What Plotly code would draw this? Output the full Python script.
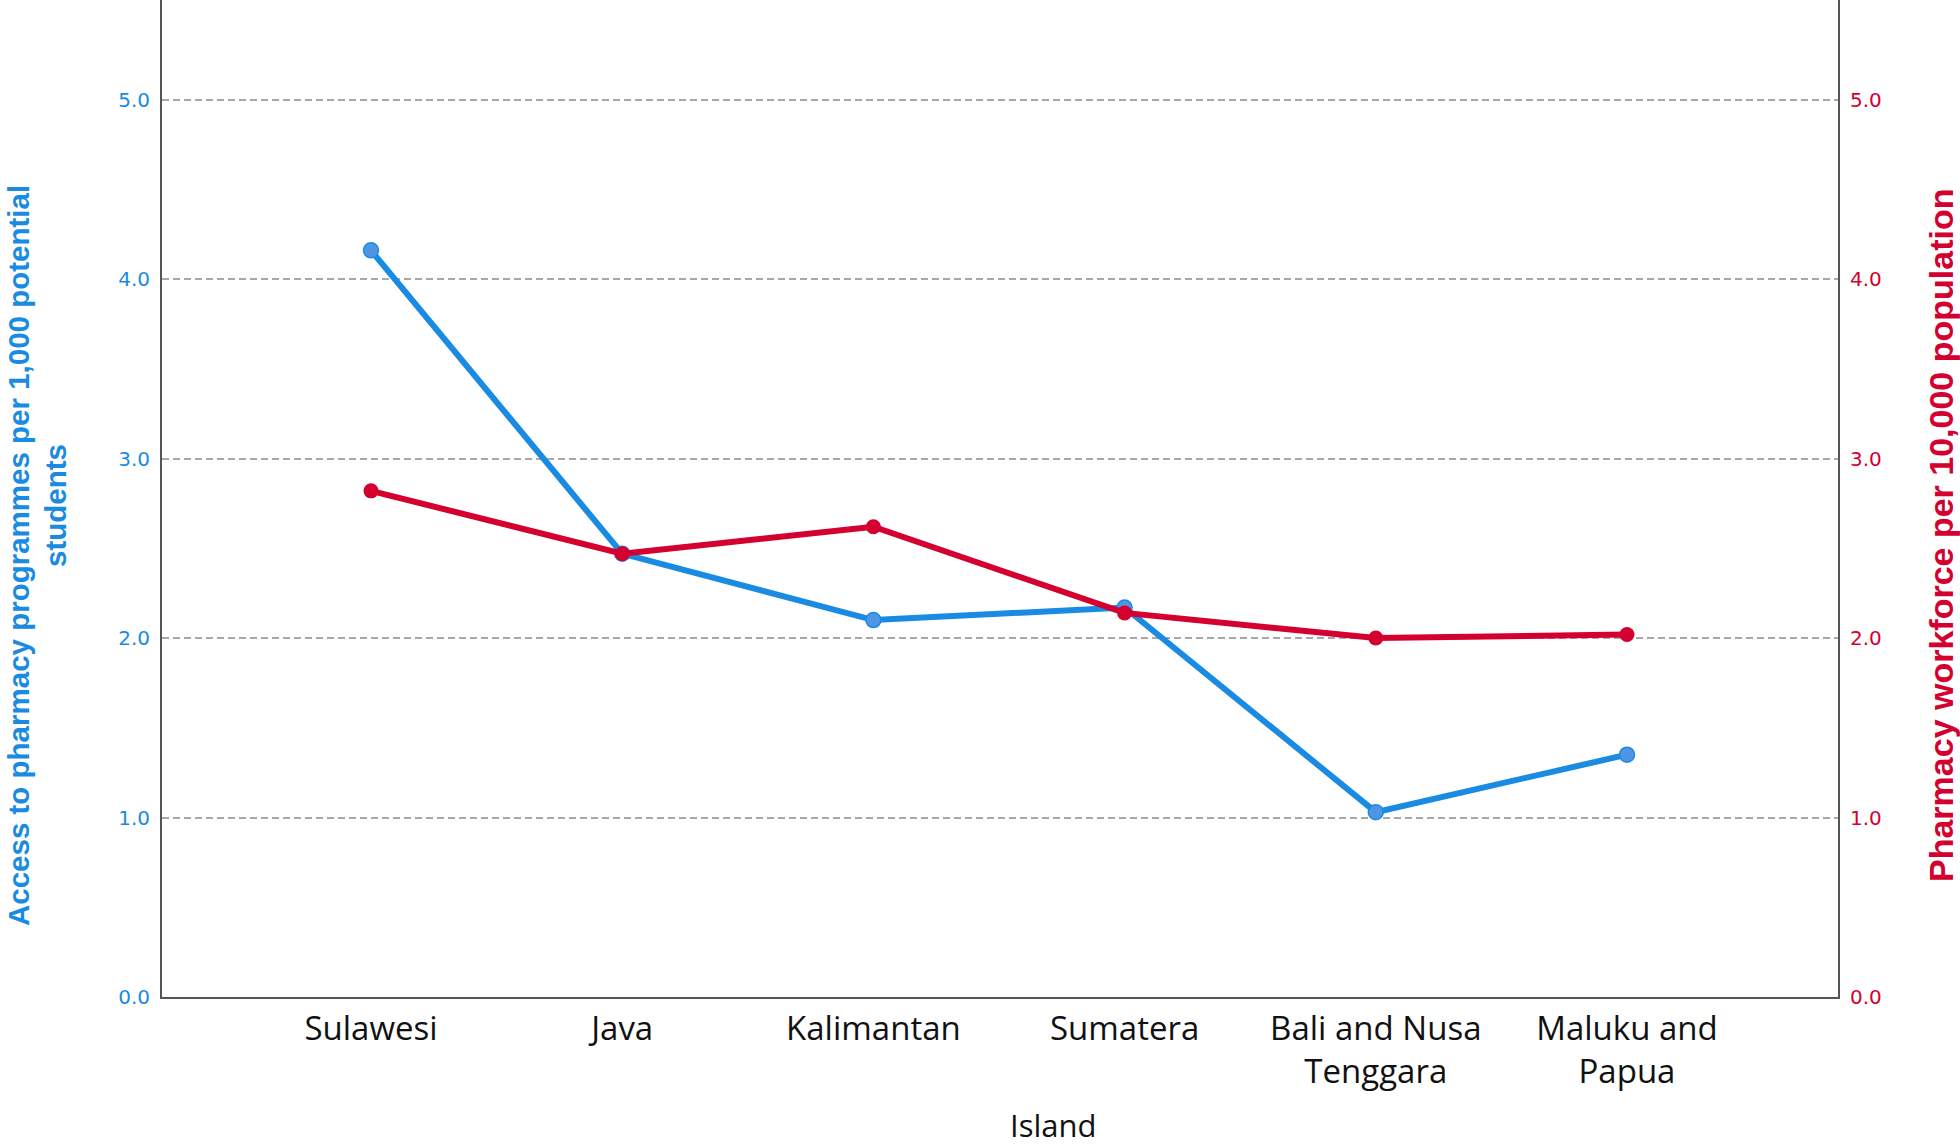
import plotly.graph_objects as go

islands = ["Sulawesi", "Java", "Kalimantan", "Sumatera", "Bali and Nusa Tenggara", "Maluku and Papua"]
island_labels = ["Sulawesi", "Java", "Kalimantan", "Sumatera", "Bali and Nusa<br>Tenggara", "Maluku and<br>Papua"]
access_programmes = [4.16, 2.47, 2.10, 2.17, 1.03, 1.35]
pharmacy_workforce = [2.82, 2.47, 2.62, 2.14, 2.00, 2.02]
y_ticks = [0, 1, 2, 3, 4, 5]
y_ticktext = ["0.0", "1.0", "2.0", "3.0", "4.0", "5.0"]

BLUE = "#1a8be3"
BLUE_MARK = "#4f95e3"
RED = "#d4002f"
W, H = 1960, 1146
L, R, T, B = 162, 122, 0, 149
PW, PH = W - L - R, H - T - B

def px_x(p):
    return (p - L) / PW

def px_y(p):
    return (H - B - p) / PH

TITLE_FONT = "Liberation Sans, Arial, sans-serif"

fig = go.Figure()
fig.add_trace(go.Scatter(
    x=islands, y=access_programmes, mode="lines+markers", yaxis="y",
    line=dict(color=BLUE, width=6),
    marker=dict(size=15, color=BLUE_MARK, line=dict(color=BLUE, width=1.5)),
    showlegend=False, name="Access to pharmacy programmes"))
fig.add_trace(go.Scatter(
    x=islands, y=pharmacy_workforce, mode="lines+markers", yaxis="y2",
    line=dict(color=RED, width=6),
    marker=dict(size=15, color=RED),
    showlegend=False, name="Pharmacy workforce"))

yrange = [0, 5.555]
grid = dict(showgrid=True, gridcolor="#a8a8a8", gridwidth=2, griddash="7px,4px")
fig.update_layout(
    width=W, height=H,
    margin=dict(l=L, r=R, t=T, b=B, pad=0),
    plot_bgcolor="white", paper_bgcolor="white",
    xaxis=dict(
        type="category", categoryorder="array", categoryarray=islands,
        tickmode="array", tickvals=islands, ticktext=island_labels,
        range=[-0.832, 5.84], showgrid=False, zeroline=False,
        showline=True, linecolor="#555555", linewidth=2, ticks="",
        tickfont=dict(family="Open Sans", size=33, color="#111111"),
        ticklabelstandoff=1,
    ),
    yaxis=dict(
        range=yrange, tickmode="array", tickvals=y_ticks, ticktext=y_ticktext,
        showline=True, linecolor="#555555", linewidth=2, ticks="", zeroline=False,
        tickfont=dict(family="DejaVu Sans", size=20, color=BLUE),
        ticklabelstandoff=6,
        **grid,
    ),
    yaxis2=dict(
        range=yrange, tickmode="array", tickvals=y_ticks, ticktext=y_ticktext,
        overlaying="y", side="right", anchor="x",
        showline=True, linecolor="#555555", linewidth=2, ticks="", zeroline=False,
        showgrid=False,
        tickfont=dict(family="DejaVu Sans", size=20, color=RED),
        ticklabelstandoff=6,
    ),
    annotations=[
        dict(text="Access to pharmacy programmes per 1,000 potential", textangle=-90,
             xref="paper", yref="paper", x=px_x(18), y=px_y(556),
             xanchor="center", yanchor="middle", showarrow=False,
             font=dict(family=TITLE_FONT, size=29.5, color=BLUE, weight="bold")),
        dict(text="students", textangle=-90,
             xref="paper", yref="paper", x=px_x(55), y=px_y(506),
             xanchor="center", yanchor="middle", showarrow=False,
             font=dict(family=TITLE_FONT, size=29.5, color=BLUE, weight="bold")),
        dict(text="Pharmacy workforce per 10,000 population", textangle=-90,
             xref="paper", yref="paper", x=px_x(1941), y=px_y(536),
             xanchor="center", yanchor="middle", showarrow=False,
             font=dict(family=TITLE_FONT, size=34, color=RED, weight="bold")),
        dict(text="Island",
             xref="paper", yref="paper", x=px_x(1053), y=px_y(1125),
             xanchor="center", yanchor="middle", showarrow=False,
             font=dict(family="Open Sans", size=31, color="#111111")),
    ],
)

fig.write_html(
    "out.html",
    config={"displayModeBar": False},
    post_script="document.body.style.margin='0';document.body.style.overflow='hidden';",
)
